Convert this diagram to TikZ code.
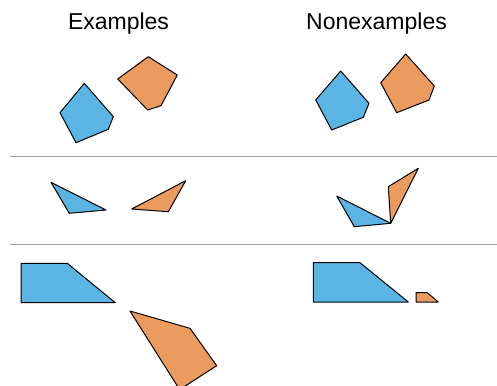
\documentclass[tikz,border=0pt]{standalone}
\usepackage{fontspec}
\setmainfont{Liberation Sans}
\definecolor{shblue}{RGB}{90,180,228}
\definecolor{shorange}{RGB}{236,155,94}
\definecolor{rulegray}{RGB}{160,160,160}
\tikzset{
  bluepoly/.style={fill=shblue,draw=black,line width=1pt,line join=round},
  orangepoly/.style={fill=shorange,draw=black,line width=1pt,line join=round},
  divider/.style={draw=rulegray,line width=1pt},
  title/.style={font=\fontsize{23}{27}\selectfont,inner sep=0pt}
}
\begin{document}
\begin{tikzpicture}[x=1pt,y=-1pt]
\useasboundingbox (0,0) rectangle (497,385);
\clip (0,0) rectangle (497,385);
\node[title] (ex) at (118.5,23.5) {Examples};
\node[title] (nex) at (376.5,23.5) {Nonexamples};
% row 1
\draw[bluepoly] (84.3,83.3) -- (113.3,116.7) -- (108.3,129.3) -- (76,142.7) -- (60,112.7) -- cycle;
\draw[orangepoly] (148.3,56.7) -- (177.3,75) -- (161,105.7) -- (147.7,110) -- (117.7,79) -- cycle;
\draw[bluepoly] (340.7,71) -- (369,103.3) -- (363.3,117.3) -- (331.7,130) -- (315.7,100) -- cycle;
\draw[orangepoly] (405.7,54) -- (434.3,86) -- (429,100) -- (396.7,112.7) -- (380.7,82.7) -- cycle;
\coordinate (l1a) at (10,156);
\coordinate (l1b) at (497,156);
\draw[divider] (l1a) -- (l1b);
% row 2
\draw[bluepoly] (51,182.3) -- (106,210) -- (69.3,213.3) -- cycle;
\draw[orangepoly] (185.7,180.7) -- (168.3,211.7) -- (131.7,209) -- cycle;
\draw[bluepoly] (336.7,196) -- (390.7,223.3) -- (354.3,226.7) -- cycle;
\draw[orangepoly] (418.3,168.3) -- (390.7,223.3) -- (388.3,186.7) -- cycle;
\coordinate (l2a) at (10,244.3);
\coordinate (l2b) at (497,244.3);
\draw[divider] (l2a) -- (l2b);
% row 3
\draw[bluepoly] (21,263.3) -- (67.3,263.3) -- (115.3,302.7) -- (21,302.7) -- cycle;
\draw[orangepoly] (130,311) -- (190,328.3) -- (216.7,365.7) -- (179.6,389.6) -- cycle;
\draw[bluepoly] (313.3,262.7) -- (360,262.7) -- (408.3,302) -- (313.3,302) -- cycle;
\draw[orangepoly] (416,292.7) -- (427.3,292.7) -- (438.3,302) -- (416,302) -- cycle;
\end{tikzpicture}
\end{document}
